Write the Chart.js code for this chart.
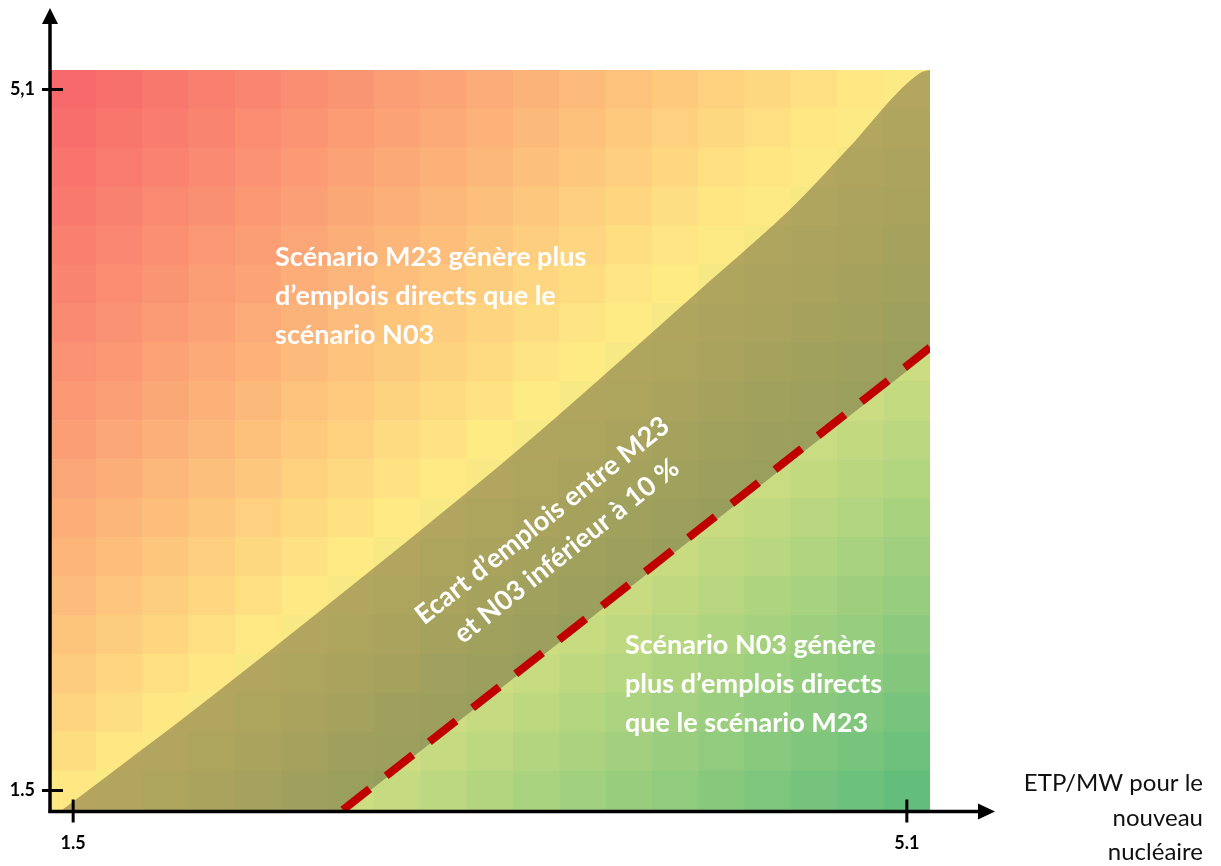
<!DOCTYPE html>
<html lang="fr">
<head>
<meta charset="utf-8">
<title>Ecart d'emplois directs M23 / N03</title>
<script src="https://cdn.jsdelivr.net/npm/chart.js@4.4.1/dist/chart.umd.min.js"></script>
<style>
  html, body { margin: 0; padding: 0; background: #fff; }
  #wrap { width: 1221px; height: 866px; }
</style>
</head>
<body>
<div id="wrap"><canvas id="chart" width="1221" height="866"></canvas></div>
<script>
// --- Data ---
// ETP/MW pour le nouveau nucléaire (x) and for the other axis (y)
const xValues = [1.5, 1.7, 1.9, 2.1, 2.3, 2.5, 2.7, 2.9, 3.1, 3.3, 3.5, 3.7, 3.9, 4.1, 4.3, 4.5, 4.7, 4.9, 5.1];
const yValues = [1.5, 1.7, 1.9, 2.1, 2.3, 2.5, 2.7, 2.9, 3.1, 3.3, 3.5, 3.7, 3.9, 4.1, 4.3, 4.5, 4.7, 4.9, 5.1];

// écart d'emplois N03 vs M23 (%), one row per yValues entry (bottom -> top)
const ecartRows = [
  [-11.4, -9.6, -7.8, -6.0, -4.2, -2.4, -0.6, 1.2, 3.0, 4.8, 6.5, 8.3, 10.1, 11.9, 13.7, 15.5, 17.3, 19.1, 20.9],
  [-13.1, -11.3, -9.5, -7.8, -6.0, -4.3, -2.5, -0.7, 1.0, 2.8, 4.6, 6.3, 8.1, 9.8, 11.6, 13.4, 15.1, 16.9, 18.6],
  [-14.7, -12.9, -11.2, -9.5, -7.7, -6.0, -4.3, -2.5, -0.8, 0.9, 2.6, 4.4, 6.1, 7.8, 9.6, 11.3, 13.0, 14.7, 16.5],
  [-16.2, -14.5, -12.8, -11.1, -9.4, -7.7, -6.0, -4.3, -2.6, -0.9, 0.8, 2.5, 4.2, 5.9, 7.6, 9.3, 11.0, 12.7, 14.4],
  [-17.7, -16.0, -14.3, -12.7, -11.0, -9.3, -7.7, -6.0, -4.3, -2.7, -1.0, 0.7, 2.3, 4.0, 5.7, 7.3, 9.0, 10.7, 12.3],
  [-19.1, -17.5, -15.8, -14.2, -12.5, -10.9, -9.3, -7.6, -6.0, -4.4, -2.7, -1.1, 0.6, 2.2, 3.8, 5.5, 7.1, 8.7, 10.4],
  [-20.5, -18.9, -17.3, -15.7, -14.0, -12.4, -10.8, -9.2, -7.6, -6.0, -4.4, -2.8, -1.2, 0.4, 2.1, 3.7, 5.3, 6.9, 8.5],
  [-21.8, -20.2, -18.7, -17.1, -15.5, -13.9, -12.3, -10.7, -9.2, -7.6, -6.0, -4.4, -2.8, -1.2, 0.3, 1.9, 3.5, 5.1, 6.7],
  [-23.1, -21.6, -20.0, -18.4, -16.9, -15.3, -13.8, -12.2, -10.7, -9.1, -7.5, -6.0, -4.4, -2.9, -1.3, 0.2, 1.8, 3.4, 4.9],
  [-24.4, -22.8, -21.3, -19.8, -18.2, -16.7, -15.2, -13.6, -12.1, -10.6, -9.0, -7.5, -6.0, -4.5, -2.9, -1.4, 0.1, 1.7, 3.2],
  [-25.6, -24.1, -22.6, -21.1, -19.5, -18.0, -16.5, -15.0, -13.5, -12.0, -10.5, -9.0, -7.5, -6.0, -4.5, -3.0, -1.5, 0.0, 1.6],
  [-26.7, -25.3, -23.8, -22.3, -20.8, -19.3, -17.8, -16.4, -14.9, -13.4, -11.9, -10.4, -8.9, -7.5, -6.0, -4.5, -3.0, -1.5, -0.1],
  [-27.9, -26.4, -25.0, -23.5, -22.0, -20.6, -19.1, -17.7, -16.2, -14.7, -13.3, -11.8, -10.4, -8.9, -7.4, -6.0, -4.5, -3.1, -1.6],
  [-29.0, -27.5, -26.1, -24.7, -23.2, -21.8, -20.4, -18.9, -17.5, -16.0, -14.6, -13.2, -11.7, -10.3, -8.8, -7.4, -6.0, -4.5, -3.1],
  [-30.1, -28.6, -27.2, -25.8, -24.4, -23.0, -21.6, -20.1, -18.7, -17.3, -15.9, -14.5, -13.0, -11.6, -10.2, -8.8, -7.4, -6.0, -4.6],
  [-31.1, -29.7, -28.3, -26.9, -25.5, -24.1, -22.7, -21.3, -19.9, -18.5, -17.1, -15.7, -14.3, -12.9, -11.5, -10.2, -8.8, -7.4, -6.0],
  [-32.1, -30.7, -29.3, -28.0, -26.6, -25.2, -23.8, -22.5, -21.1, -19.7, -18.3, -17.0, -15.6, -14.2, -12.8, -11.5, -10.1, -8.7, -7.3],
  [-33.1, -31.7, -30.4, -29.0, -27.6, -26.3, -24.9, -23.6, -22.2, -20.9, -19.5, -18.2, -16.8, -15.5, -14.1, -12.7, -11.4, -10.0, -8.7],
  [-34.0, -32.7, -31.3, -30.0, -28.7, -27.3, -26.0, -24.7, -23.3, -22.0, -20.7, -19.3, -18.0, -16.7, -15.3, -14.0, -12.6, -11.3, -10.0]
];

// contour "écart 10 %" (upper edge of the band) and lower edge of the band
const bandHaut = [
  {x: 1.452, y: 1.4}, {x: 2.078, y: 1.965}, {x: 3.257, y: 3.085}, {x: 3.572, y: 3.403},
  {x: 4.207, y: 4.071}, {x: 4.625, y: 4.518}, {x: 4.841, y: 4.790}, {x: 5.157, y: 5.185}, {x: 5.2, y: 5.2}
];
const bandBas = [{x: 1.452, y: 1.4}, {x: 2.674, y: 1.4}, {x: 5.2, y: 3.747}];
// équilibre M23 = N03 (dashed)
const equilibre = [{x: 2.665, y: 1.4}, {x: 5.2, y: 3.775}];

const xTicks = [1.5, 5.1];
const xTickLabels = ['1.5', '5.1'];
const yTicks = [1.5, 5.1];
const yTickLabels = ['1.5', '5,1'];

const m23Text = ['Scénario M23 génère plus', 'd’emplois directs que le', 'scénario N03'];
const n03Text = ['Scénario N03 génère', 'plus d’emplois directs', 'que le scénario M23'];
const bandText = ['Ecart d’emplois entre M23', 'et N03 inférieur à 10 %'];
const xTitle = ['ETP/MW pour le', 'nouveau', 'nucléaire'];

// --- Colour scale (red / yellow / green, midpoint = median) ---
const allValues = ecartRows.flat().slice().sort((a, b) => a - b);
const vMin = allValues[0];
const vMax = allValues[allValues.length - 1];
const vMid = allValues[Math.floor(allValues.length / 2)];
const RED = [248, 105, 107], YELLOW = [255, 235, 132], GREEN = [99, 190, 123];

function mix(a, b, t) {
    return a.map((c, i) => Math.round(c + (b[i] - c) * t));
}
function colorFor(v) {
    const c = v <= vMid
        ? mix(RED, YELLOW, (v - vMin) / (vMid - vMin))
        : mix(YELLOW, GREEN, (v - vMid) / (vMax - vMid));
    return `rgb(${c[0]}, ${c[1]}, ${c[2]})`;
}

const halfStep = (yValues[1] - yValues[0]) / 2;
const cellDatasets = yValues.map((yv, r) => ({
    type: 'bar',
    data: xValues.map(xv => ({x: xv, y: [yv - halfStep, yv + halfStep]})),
    backgroundColor: ecartRows[r].map(colorFor),
    borderWidth: 0,
    grouped: false,
    barPercentage: 1,
    categoryPercentage: 1,
    order: 3
}));

// --- Text + axes plugin ---
const decorations = {
    id: 'decorations',
    afterDatasetsDraw(chart) {
        const {ctx, scales: {x, y}} = chart;
        const lh = 39;
        ctx.save();
        ctx.fillStyle = '#ffffff';
        ctx.font = 'bold 27px Lato';
        ctx.textBaseline = 'middle';
        ctx.textAlign = 'left';
        m23Text.forEach((t, i) => ctx.fillText(t, x.getPixelForValue(2.372), y.getPixelForValue(4.24) + i * lh));
        n03Text.forEach((t, i) => ctx.fillText(t, x.getPixelForValue(3.883), y.getPixelForValue(2.247) + i * lh));

        ctx.translate(x.getPixelForValue(3.578), y.getPixelForValue(2.808));
        ctx.rotate(-38.5 * Math.PI / 180);
        ctx.textAlign = 'center';
        bandText.forEach((t, i) => ctx.fillText(t, 0, (i - 0.5) * lh));
        ctx.restore();
    },
    afterDraw(chart) {
        const {ctx, scales: {x, y}} = chart;
        const x0 = x.left;
        const yb = y.bottom + 1.5;
        ctx.save();
        ctx.strokeStyle = '#000';
        ctx.fillStyle = '#000';
        ctx.lineWidth = 3.5;

        // y axis + arrow
        ctx.beginPath();
        ctx.moveTo(x0, yb + 1.5);
        ctx.lineTo(x0, y.top - 50);
        ctx.stroke();
        ctx.beginPath();
        ctx.moveTo(x0, y.top - 62);
        ctx.lineTo(x0 - 8, y.top - 46);
        ctx.lineTo(x0 + 8, y.top - 46);
        ctx.closePath();
        ctx.fill();

        // x axis + arrow
        ctx.beginPath();
        ctx.moveTo(x0 - 1.5, yb);
        ctx.lineTo(x.right + 52, yb);
        ctx.stroke();
        ctx.beginPath();
        ctx.moveTo(x.right + 65, yb);
        ctx.lineTo(x.right + 48, yb - 8);
        ctx.lineTo(x.right + 48, yb + 8);
        ctx.closePath();
        ctx.fill();

        // ticks
        ctx.lineWidth = 3;
        ctx.font = 'bold 18px Lato';
        ctx.textBaseline = 'middle';
        ctx.textAlign = 'right';
        yTicks.forEach((v, i) => {
            const py = y.getPixelForValue(v);
            ctx.beginPath();
            ctx.moveTo(x0 - 8, py);
            ctx.lineTo(x0 + 13, py);
            ctx.stroke();
            ctx.fillText(yTickLabels[i], x0 - 15, py);
        });
        ctx.textAlign = 'center';
        xTicks.forEach((v, i) => {
            const px = x.getPixelForValue(v);
            ctx.beginPath();
            ctx.moveTo(px, yb - 12);
            ctx.lineTo(px, yb + 11);
            ctx.stroke();
            ctx.fillText(xTickLabels[i], px, yb + 32);
        });

        // axis title
        ctx.font = '24px Lato';
        ctx.textAlign = 'right';
        ctx.fillStyle = '#111';
        xTitle.forEach((t, i) => ctx.fillText(t, chart.width - 18, yb - 28 + i * 34.5));
        ctx.restore();
    }
};

new Chart(document.getElementById('chart'), {
    type: 'bar',
    data: {
        datasets: [
            {
                type: 'line', data: equilibre, borderColor: '#c00000', borderWidth: 8,
                borderDash: [34, 21], borderCapStyle: 'butt', pointRadius: 0, fill: false, order: 0
            },
            {
                type: 'line', data: bandHaut, borderColor: 'transparent', borderWidth: 0,
                backgroundColor: 'rgba(105, 98, 58, 0.5)', fill: '+1', pointRadius: 0,
                cubicInterpolationMode: 'monotone', order: 1
            },
            {
                type: 'line', data: bandBas, borderColor: 'transparent', borderWidth: 0,
                pointRadius: 0, fill: false, order: 2
            },
            ...cellDatasets
        ]
    },
    options: {
        responsive: false,
        animation: false,
        events: [],
        layout: { padding: { left: 50, right: 291, top: 70, bottom: 56 } },
        plugins: { legend: { display: false }, tooltip: { enabled: false } },
        scales: {
            x: { type: 'linear', min: 1.4, max: 5.2, offset: false, display: false },
            y: { type: 'linear', min: 1.4, max: 5.2, display: false }
        }
    },
    plugins: [decorations]
});
</script>
</body>
</html>
